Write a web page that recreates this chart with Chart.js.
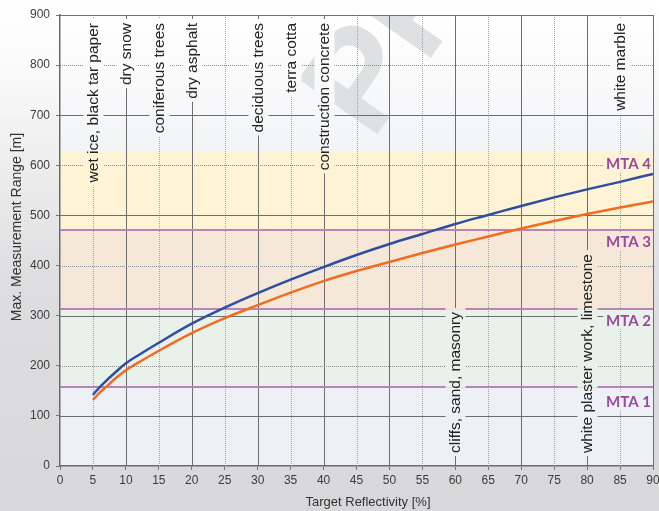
<!DOCTYPE html>
<html>
<head>
<meta charset="utf-8">
<script src="https://cdn.jsdelivr.net/npm/chart.js@4/dist/chart.umd.min.js"></script>
<style>
  html, body { margin: 0; padding: 0; }
  #wrap { width: 659px; height: 511px; }
</style>
</head>
<body>
<div id="wrap"><canvas id="chart" width="659" height="511"></canvas></div>
<script>
// reflectivity [%] against max. range [m]
const reflectivity = [5, 6, 7, 8, 9, 10, 12.5, 15, 20, 25, 30, 35, 40, 45, 50, 55, 60, 65, 70, 75, 80, 85, 90];
const rangeBlue    = [142, 157, 170, 182, 194, 205, 226, 246, 284, 316, 345, 372, 397, 421, 443, 463, 483, 501, 519, 536, 552, 567, 583];
const rangeOrange  = [132, 146, 158, 170, 181, 191, 211, 230, 265, 295, 321, 346, 369, 389, 407, 425, 442, 458, 474, 489, 503, 516, 528];

// MTA zones (upper limit of each zone) and where their names sit
const mtaLimits = [157, 313, 470, 627];
const mtaNames = ['MTA 1', 'MTA 2', 'MTA 3', 'MTA 4'];
const mtaLabelAt = [130, 291, 449, 604];
const bandColors = ['#edf1f6', '#e9f2ea', '#f6e8d9', '#fef4d5'];

// typical targets, hung from the top or standing on the bottom
const topTargets = ['wet ice, black tar paper', 'dry snow', 'coniferous trees', 'dry asphalt',
  'deciduous trees', 'terra cotta', 'construction concrete', 'white marble'];
const topTargetsAt = [5, 10, 15, 20, 30, 35, 40, 85];
const bottomTargets = ['cliffs, sand, masonry', 'white plaster work, limestone'];
const bottomTargetsAt = [60, 80];

const xTicks = { min: 0, max: 90, step: 5 };
const yTicks = { min: 0, max: 900, step: 100 };

const FONT = "'Liberation Sans', Arial, sans-serif";

function paintPlot(ctx, a, y, withMark) {
  const top = y.getPixelForValue(yTicks.max);
  const lim = y.getPixelForValue(mtaLimits[3]);
  const g = ctx.createLinearGradient(0, top, 0, lim);
  g.addColorStop(0, '#ffffff');
  g.addColorStop(1, '#f3f4f6');
  ctx.fillStyle = g;
  ctx.fillRect(a.left, top, a.width, lim - top);
  if (withMark) {
    ctx.save();
    ctx.beginPath();
    ctx.rect(a.left, top, a.width, lim - top);
    ctx.clip();
    ctx.translate(372, 142);
    ctx.rotate(-55 * Math.PI / 180);
    ctx.font = 'bold 140px ' + FONT;
    ctx.textAlign = 'left';
    ctx.textBaseline = 'alphabetic';
    ctx.fillStyle = '#dfe0e2';
    ctx.fillText('PRELIMINARY', 0, 0);
    ctx.restore();
  }
  let lo = 0;
  mtaLimits.forEach((hi, i) => {
    const y0 = y.getPixelForValue(lo), y1 = y.getPixelForValue(hi);
    ctx.fillStyle = bandColors[i];
    ctx.fillRect(a.left, y1, a.width, y0 - y1);
    lo = hi;
  });
}

function hline(ctx, x0, x1, py) {
  ctx.beginPath(); ctx.moveTo(x0, py); ctx.lineTo(x1, py); ctx.stroke();
}
function vline(ctx, px, y0, y1) {
  ctx.beginPath(); ctx.moveTo(px, y0); ctx.lineTo(px, y1); ctx.stroke();
}

// clears a box back to the plot background so text sits on a clean patch
function clearBox(chart, bx, by, bw, bh) {
  const { ctx, chartArea: a, scales: { y } } = chart;
  ctx.save();
  ctx.beginPath();
  ctx.rect(bx, by, bw, bh);
  ctx.clip();
  paintPlot(ctx, a, y, false);
  ctx.restore();
}

const backdrop = {
  id: 'backdrop',
  beforeDraw(chart) {
    const { ctx, width, height, chartArea: a, scales: { y } } = chart;
    const g = ctx.createLinearGradient(0, 0, 0, height);
    g.addColorStop(0, '#ffffff');
    g.addColorStop(0.12, '#fbfbfb');
    g.addColorStop(0.55, '#dedee0');
    g.addColorStop(1, '#d8d8da');
    ctx.save();
    ctx.fillStyle = g;
    ctx.fillRect(0, 0, width, height);
    paintPlot(ctx, a, y, true);
    ctx.restore();
  },
  beforeDatasetsDraw(chart) {
    const { ctx, chartArea: a, scales: { x, y } } = chart;
    ctx.save();
    ctx.lineWidth = 1;

    // vertical grid: solid every 10 %, dotted in between
    for (let v = xTicks.step; v <= xTicks.max; v += xTicks.step) {
      const px = Math.round(x.getPixelForValue(v)) + 0.5;
      const major = v % 10 === 0;
      ctx.strokeStyle = major ? '#6e6e6e' : '#a2a2a2';
      ctx.setLineDash(major ? [] : [1, 1]);
      vline(ctx, px, a.top, a.bottom);
    }
    // horizontal grid: solid on odd hundreds, dotted on even ones
    for (let v = yTicks.step; v <= yTicks.max; v += yTicks.step) {
      const py = Math.round(y.getPixelForValue(v)) + 0.5;
      const solid = (v / 100) % 2 === 1;
      ctx.strokeStyle = solid ? '#6e6e6e' : '#8a8a8a';
      ctx.setLineDash(solid ? [] : [1, 1]);
      hline(ctx, a.left, a.right, py);
    }
    ctx.setLineDash([]);

    // zone borders
    ctx.strokeStyle = '#b783b8';
    ctx.lineWidth = 2;
    mtaLimits.slice(0, 3).forEach(v => hline(ctx, a.left, a.right, Math.round(y.getPixelForValue(v))));

    // target names along the reflectivity lines
    ctx.font = '15.5px ' + FONT;
    ctx.fillStyle = '#222222';
    ctx.textBaseline = 'middle';
    const topY = 23, bottomY = 453;
    topTargets.forEach((name, i) => {
      const px = Math.round(x.getPixelForValue(topTargetsAt[i])) + 0.5;
      const w = ctx.measureText(name).width;
      clearBox(chart, px - 10, 19, 20, w + 7);
      ctx.save();
      ctx.translate(px, topY);
      ctx.rotate(-Math.PI / 2);
      ctx.textAlign = 'right';
      ctx.fillText(name, 0, 0);
      ctx.restore();
    });
    bottomTargets.forEach((name, i) => {
      const px = Math.round(x.getPixelForValue(bottomTargetsAt[i])) + 0.5;
      const w = ctx.measureText(name).width;
      clearBox(chart, px - 10, bottomY - w - 4, 20, w + 7);
      ctx.save();
      ctx.translate(px, bottomY);
      ctx.rotate(-Math.PI / 2);
      ctx.textAlign = 'left';
      ctx.fillText(name, 0, 0);
      ctx.restore();
    });

    // zone names at the right edge
    ctx.font = "bold 15px Lato, 'Liberation Sans', sans-serif";
    ctx.fillStyle = '#984a9c';
    ctx.textAlign = 'right';
    mtaNames.forEach((name, i) => {
      const py = y.getPixelForValue(mtaLabelAt[i]);
      const w = ctx.measureText(name).width;
      clearBox(chart, a.right - w - 5, py - 9, w + 5, 18);
      ctx.fillText(name, a.right - 2, py + 1);
    });
    ctx.restore();
  },
  afterDraw(chart) {
    const { ctx } = chart;
    ctx.save();
    ctx.fillStyle = '#333333';
    ctx.textAlign = 'center';
    ctx.textBaseline = 'middle';
    ctx.font = '13px ' + FONT;
    ctx.fillText('Target Reflectivity [%]', 368, 502);
    ctx.translate(17, 227);
    ctx.rotate(-Math.PI / 2);
    ctx.font = '14px ' + FONT;
    ctx.fillText('Max. Measurement Range [m]', 0, 0);
    ctx.restore();
  }
};

const pairs = vals => reflectivity.map((r, i) => ({ x: r, y: vals[i] }));

new Chart(document.getElementById('chart'), {
  type: 'line',
  data: {
    datasets: [
      { data: pairs(rangeBlue), borderColor: '#2f4ea2', borderWidth: 2.5 },
      { data: pairs(rangeOrange), borderColor: '#f36a21', borderWidth: 2.5 }
    ]
  },
  options: {
    responsive: false,
    animation: false,
    devicePixelRatio: 1,
    layout: { padding: { top: 15, right: 6, left: 0, bottom: 0 } },
    elements: { point: { radius: 0 }, line: { cubicInterpolationMode: 'monotone', fill: false } },
    plugins: { legend: { display: false }, tooltip: { enabled: false } },
    scales: {
      x: {
        type: 'linear', min: xTicks.min, max: xTicks.max,
        afterFit: s => { s.height = 45; s.paddingLeft = 0; s.paddingRight = 0; },
        ticks: { stepSize: xTicks.step, color: '#3c3c3c', font: { family: FONT, size: 12 }, padding: 3, maxRotation: 0 },
        grid: { drawOnChartArea: false, tickLength: 4, tickColor: '#777777' },
        border: { color: '#6a6a6a', width: 1.5 }
      },
      y: {
        min: yTicks.min, max: yTicks.max,
        afterFit: s => { s.width = 60; s.paddingTop = 0; s.paddingBottom = 0; },
        ticks: { stepSize: yTicks.step, color: '#3c3c3c', font: { family: FONT, size: 12 }, padding: 6 },
        grid: { drawOnChartArea: false, tickLength: 4, tickColor: '#777777' },
        border: { color: '#6a6a6a', width: 1.5 }
      }
    }
  },
  plugins: [backdrop]
});
</script>
</body>
</html>
